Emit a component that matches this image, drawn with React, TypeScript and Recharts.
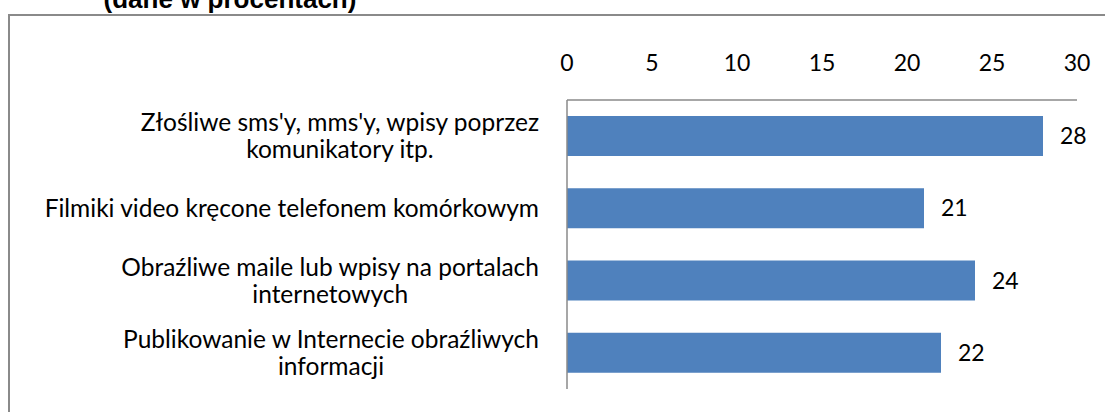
import React from "react";
import { BarChart, Bar, XAxis, YAxis, LabelList } from "recharts";

const categories: string[] = [
  "Złośliwe sms'y, mms'y, wpisy poprzez\nkomunikatory itp.",
  "Filmiki video kręcone telefonem komórkowym",
  "Obraźliwe maile lub wpisy na portalach\ninternetowych",
  "Publikowanie w Internecie obraźliwych\ninformacji",
];
const values: number[] = [28, 21, 24, 22];
const xTicks: number[] = [0, 5, 10, 15, 20, 25, 30];
const title = "(dane w procentach)";

const data = categories.map((c, i) => ({ name: c, value: values[i] }));

const FONT = "Lato, 'Open Sans', sans-serif";
const FS = 24.5;
const TFS = 23;

const CatTick = (props: any) => {
  const { x, y, payload } = props;
  const w = 540;
  const h = 80;
  return (
    <foreignObject x={x - 20 - w} y={y - h / 2 - 1} width={w} height={h}>
      <div
        style={{
          width: w,
          height: h,
          display: "flex",
          justifyContent: "flex-end",
          alignItems: "center",
        }}
      >
        <div
          style={{
            textAlign: "center",
            whiteSpace: "pre-line",
            fontFamily: FONT,
            fontSize: FS,
            lineHeight: "27px",
            color: "#000",
          }}
        >
          {payload.value}
        </div>
      </div>
    </foreignObject>
  );
};

export default function App() {
  return (
    <div
      style={{
        position: "absolute",
        left: 0,
        top: 0,
        width: 1105,
        height: 412,
        overflow: "hidden",
        background: "#fff",
      }}
    >
      <div
        style={{
          position: "absolute",
          left: 8,
          top: 14,
          width: 1300,
          height: 600,
          border: "2px solid #8a8a8a",
          boxSizing: "border-box",
        }}
      />
      <svg
        width={1105}
        height={40}
        style={{ position: "absolute", left: 0, top: 0 }}
      >
        <text
          x={230}
          y={8}
          textAnchor="middle"
          fontFamily="'Liberation Sans', Arial, sans-serif"
          fontWeight="bold"
          fontSize={26}
          fill="#000"
        >
          {title}
        </text>
      </svg>
      <div style={{ position: "absolute", left: 0, top: 0 }}>
        <BarChart
          width={1105}
          height={412}
          data={data}
          layout="vertical"
          margin={{ top: 0, right: 28, bottom: 23, left: 0 }}
          barSize={40}
        >
          <XAxis
            type="number"
            orientation="top"
            domain={[0, 30]}
            ticks={xTicks}
            interval={0}
            height={100}
            axisLine={{ stroke: "#8a8a8a", strokeWidth: 1.5 }}
            tickLine={false}
            tickSize={0}
            tickMargin={29}
            tick={{ fontFamily: FONT, fontSize: TFS, fill: "#000" }}
          />
          <YAxis
            type="category"
            dataKey="name"
            width={567}
            axisLine={{ stroke: "#8a8a8a", strokeWidth: 1.5 }}
            tickLine={false}
            tick={<CatTick />}
            interval={0}
          />
          <Bar dataKey="value" fill="#4F81BD" isAnimationActive={false}>
            <LabelList
              dataKey="value"
              position="right"
              offset={17}
              style={{ fontFamily: FONT, fontSize: TFS, fill: "#000" }}
            />
          </Bar>
        </BarChart>
      </div>
    </div>
  );
}
